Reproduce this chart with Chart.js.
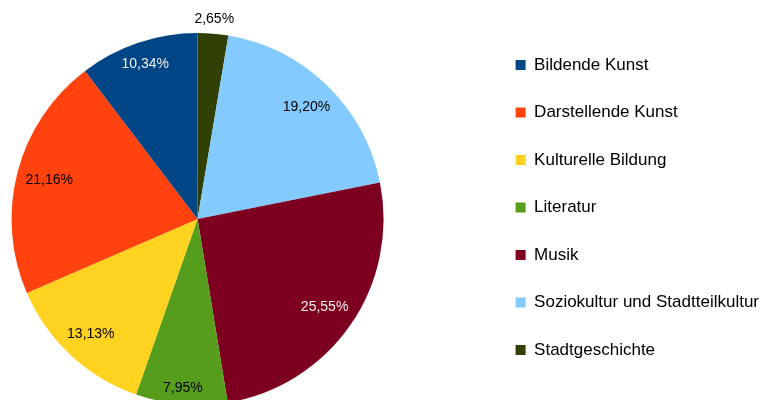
<!DOCTYPE html>
<html>
<head>
<meta charset="utf-8">
<script src="https://cdn.jsdelivr.net/npm/chart.js@4.4.1/dist/chart.umd.min.js"></script>
<style>
  html, body { margin: 0; padding: 0; background: #fff; overflow: hidden; }
  body { position: relative; width: 764px; height: 400px; }
  /* the pie sits left of where Chart.js would centre it and runs past the bottom edge,
     so the canvas is a bit bigger than the page and shifted left */
  canvas { display: block; position: absolute; left: -90px; top: 0; }
</style>
</head>
<body>
<canvas id="chart" width="860" height="412"></canvas>
<script>
const categories = ['Bildende Kunst', 'Darstellende Kunst', 'Kulturelle Bildung', 'Literatur', 'Musik', 'Soziokultur und Stadtteilkultur', 'Stadtgeschichte'];
const shares = [10.34, 21.16, 13.13, 7.95, 25.55, 19.20, 2.65];
const colors = ['#004586', '#ff420e', '#ffd320', '#579d1c', '#7e0021', '#83caff', '#314004'];
const labelColors = ['#eeeeee', '#000000', '#000000', '#000000', '#eeeeee', '#000000', '#000000'];

const FONT = '"Liberation Sans", Arial, sans-serif';

// the original runs counter-clockwise from 12 o'clock, Chart.js runs clockwise,
// so the slices go in reversed and the legend gets flipped back
const rev = arr => arr.slice().reverse();
const formatPct = v => v.toFixed(2).replace('.', ',') + '%';

const sliceLabels = {
    id: 'sliceLabels',
    afterDatasetsDraw(chart) {
        const ctx = chart.ctx;
        const meta = chart.getDatasetMeta(0);
        const data = chart.data.datasets[0].data;
        const textColors = rev(labelColors);

        ctx.save();
        ctx.font = '14px ' + FONT;
        ctx.textAlign = 'center';
        ctx.textBaseline = 'middle';

        meta.data.forEach((arc, i) => {
            const { x, y, startAngle, endAngle, outerRadius } =
                arc.getProps(['x', 'y', 'startAngle', 'endAngle', 'outerRadius'], true);
            const mid = (startAngle + endAngle) / 2;
            const cos = Math.cos(mid);
            const sin = Math.sin(mid);
            const text = formatPct(data[i]);

            // keep the text box a few px off the rim
            const extent = ctx.measureText(text).width / 2 * Math.abs(cos) + 7 * Math.abs(sin);
            const outside = data[i] < 5;
            const dist = outside ? outerRadius + 6 + extent : outerRadius - 8 - extent;

            ctx.fillStyle = outside ? '#000000' : textColors[i];
            ctx.fillText(text, x + cos * dist, y + sin * dist);
        });

        ctx.restore();
    }
};

new Chart(document.getElementById('chart'), {
    type: 'pie',
    data: {
        labels: rev(categories),
        datasets: [
            {
                data: rev(shares),
                backgroundColor: rev(colors),
                borderWidth: 0,
                radius: 186
            }
        ]
    },
    options: {
        responsive: false,
        animation: false,
        devicePixelRatio: 1,
        layout: {
            padding: { left: 0, right: 1, top: 26, bottom: 0 }
        },
        plugins: {
            tooltip: { enabled: false },
            legend: {
                position: 'right',
                align: 'start',
                reverse: true,
                labels: {
                    boxWidth: 10,
                    boxHeight: 10,
                    padding: 30.5,
                    color: '#000000',
                    font: { family: FONT, size: 17 }
                }
            }
        }
    },
    plugins: [sliceLabels]
});
</script>
</body>
</html>
